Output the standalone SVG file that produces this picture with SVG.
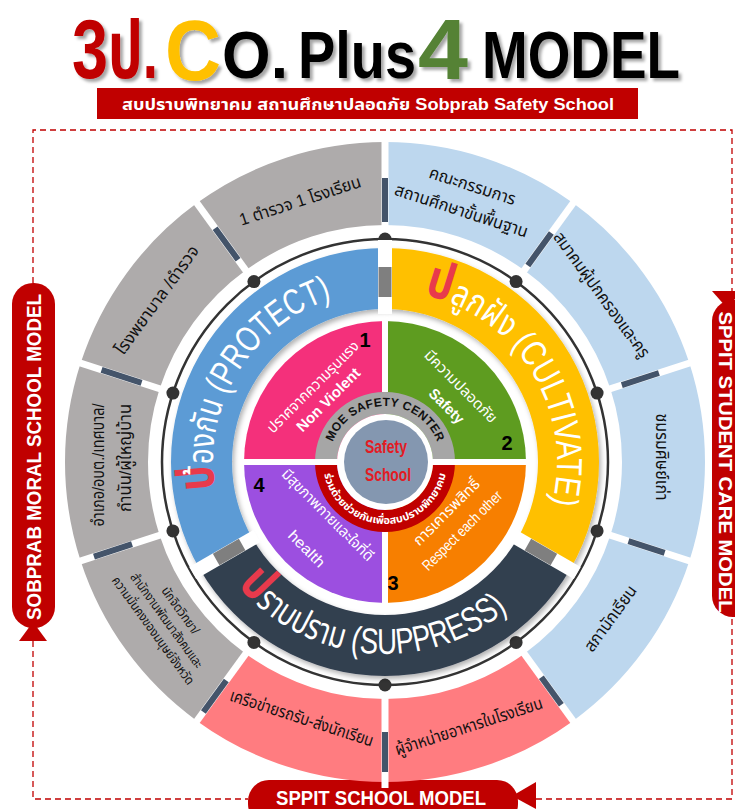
<svg xmlns="http://www.w3.org/2000/svg" width="735" height="809" viewBox="0 0 735 809">
<defs>
<style>
text{font-family:"Liberation Sans","Noto Sans Thai","Noto Sans",sans-serif}
.gray{fill:#aeabab}.lb{fill:#bdd7ee}.pk{fill:#ff7c80}
.gap{stroke:#fff;stroke-width:7}
.bar{stroke:#44546a;stroke-width:6}
.mgap{stroke:#fff;stroke-width:14}
.mbar{stroke:#7f7f7f;stroke-width:13}
.ot{font-size:17px;fill:#111;text-anchor:middle}
.ot7{font-size:13px;fill:#111;text-anchor:middle}
.qt{font-size:15px;fill:#fff;text-anchor:middle}
.num{font-size:20px;font-weight:bold;fill:#000;text-anchor:middle}
.ring{font-size:36px;fill:#fff}
.rp{fill:#e83a4c;font-size:52px;font-weight:bold}
.dot{fill:#333}
.dash{stroke:#c00000;stroke-width:1.3;stroke-dasharray:6 4;fill:none}
.pill{fill:#c00000}
.lbl{font-weight:bold;fill:#fff;text-anchor:middle}
.title{font-weight:bold}
</style>
<filter id="sh" x="-10%" y="-20%" width="130%" height="150%">
<feDropShadow dx="3" dy="3" stdDeviation="1.5" flood-color="#000" flood-opacity="0.35"/>
</filter>
<filter id="sh2" x="-10%" y="-10%" width="130%" height="130%">
<feDropShadow dx="2" dy="3" stdDeviation="2.5" flood-color="#000" flood-opacity="0.3"/>
</filter>
<path id="pProtect" d="M218.86,506.52 A172,172 0 0 1 399.99,290.66"/>
<path id="pCult" d="M399.99,290.66 A172,172 0 0 1 540.89,534.69"/>
<path id="pSupp" d="M218.72,558 A192,192 0 0 0 551.28,558"/>
<path id="pMoe" d="M329,462 A56,56 0 0 1 441,462"/>
<path id="pRed" d="M323,462 A62,62 0 0 0 447,462"/>
</defs>
<rect width="735" height="809" fill="#fff"/>

<!-- Title -->
<g id="title" class="title" filter="url(#sh)">
<text x="72" y="78" font-size="84" fill="#c00000" textLength="36" lengthAdjust="spacingAndGlyphs">3</text>
<text x="108" y="78" font-size="80" fill="#c00000" textLength="50" lengthAdjust="spacingAndGlyphs">ป.</text>
<text x="165" y="80" font-size="86" fill="#ffc000" textLength="56" lengthAdjust="spacingAndGlyphs">C</text>
<text x="222" y="78" font-size="67" fill="#000" textLength="66" lengthAdjust="spacingAndGlyphs">O.</text>
<text x="298" y="78" font-size="67" fill="#000" textLength="118" lengthAdjust="spacingAndGlyphs">Plus</text>
<text x="418" y="79" font-size="86" fill="#548235" textLength="50" lengthAdjust="spacingAndGlyphs">4</text>
<text x="482" y="78" font-size="67" fill="#000" textLength="198" lengthAdjust="spacingAndGlyphs">MODEL</text>
</g>
<g id="subtitle">
<rect x="97" y="88" width="541" height="31" fill="#c00000"/>
<text x="368" y="110" font-size="16" font-weight="bold" fill="#fff" text-anchor="middle" textLength="492" lengthAdjust="spacingAndGlyphs">สบปราบพิทยาคม สถานศึกษาปลอดภัย Sobprab Safety School</text>
</g>

<!-- Frame / connectors -->
<g id="connectors">
<path class="dash" d="M33,283 V130 H732 V291"/>
<path class="dash" d="M33,641 V799 H248"/>
<path class="dash" d="M536,799 H732 V617"/>
</g>

<!-- Side labels -->
<g id="label-left">
<rect class="pill" x="12" y="283" width="43" height="345" rx="21"/>
<polygon class="pill" points="33,622 19,641 47,641"/>
<text class="lbl" transform="translate(41,457) rotate(-90)" font-size="21" textLength="326" lengthAdjust="spacingAndGlyphs">SOBPRAB MORAL SCHOOL MODEL</text>
</g>
<g id="label-right">
<polygon class="pill" points="712,291 742,291 727,308"/>
<rect class="pill" x="712" y="300" width="45" height="317" rx="21"/>
<text class="lbl" transform="translate(719,462) rotate(90)" font-size="19" textLength="301" lengthAdjust="spacingAndGlyphs">SPPIT STUDENT CARE MODEL</text>
</g>
<g id="label-bottom">
<rect class="pill" x="248" y="780" width="270" height="45" rx="21"/>
<polygon class="pill" points="512,796 536,782 536,809"/>
<text class="lbl" x="381" y="805" font-size="21" textLength="210" lengthAdjust="spacingAndGlyphs">SPPIT SCHOOL  MODEL</text>
</g>

<!-- Outer ring segments -->
<g id="seg1"><path class="lb" d="M385,142 A320,320 0 0 1 573.09,203.11 L524.31,270.26 A237,237 0 0 0 385,225 Z"/>
<text class="ot" transform="translate(470.6,198.56) rotate(18)" x="-2" y="-7" textLength="90" lengthAdjust="spacingAndGlyphs">คณะกรรมการ</text>
<text class="ot" transform="translate(470.6,198.56) rotate(18)" x="-5" y="20" textLength="139" lengthAdjust="spacingAndGlyphs">สถานศึกษาขั้นพื้นฐาน</text></g>
<g id="seg2"><path class="lb" d="M573.09,203.11 A320,320 0 0 1 689.34,363.11 L610.40,388.76 A237,237 0 0 0 524.31,270.26 Z"/>
<text class="ot" transform="translate(609.1,299.18) rotate(54)" x="-8" y="9" textLength="151" lengthAdjust="spacingAndGlyphs">สมาคมผู้ปกครองและครู</text></g>
<g id="seg3"><path class="lb" d="M689.34,363.11 A320,320 0 0 1 689.34,560.89 L610.40,535.24 A237,237 0 0 0 610.40,388.76 Z"/>
<text class="ot" transform="translate(662,462) rotate(90)" x="-5" y="6" textLength="87" lengthAdjust="spacingAndGlyphs">ชมรมศิษย์เก่า</text></g>
<g id="seg4"><path class="lb" d="M689.34,560.89 A320,320 0 0 1 573.09,720.89 L524.31,653.74 A237,237 0 0 0 610.40,535.24 Z"/>
<text class="ot" transform="translate(609.1,624.82) rotate(-54)" x="6" y="3" textLength="77" lengthAdjust="spacingAndGlyphs">สภานักเรียน</text></g>
<g id="seg5"><path class="pk" d="M573.09,720.89 A320,320 0 0 1 385,782 L385,699 A237,237 0 0 0 524.31,653.74 Z"/>
<text class="ot" transform="translate(470.6,725.44) rotate(-18)" x="-2" y="6" textLength="154" lengthAdjust="spacingAndGlyphs">ผู้จำหน่ายอาหารในโรงเรียน</text></g>
<g id="seg6"><path class="pk" d="M385,782 A320,320 0 0 1 196.91,720.89 L245.69,653.74 A237,237 0 0 0 385,699 Z"/>
<text class="ot" transform="translate(299.4,725.44) rotate(18)" x="0" y="-2" textLength="150" lengthAdjust="spacingAndGlyphs">เครือข่ายรถรับ-ส่งนักเรียน</text></g>
<g id="seg7"><path class="gray" d="M196.91,720.89 A320,320 0 0 1 80.66,560.89 L159.60,535.24 A237,237 0 0 0 245.69,653.74 Z"/>
<text class="ot7" transform="translate(160.9,624.82) rotate(54)" x="0" y="-20" textLength="55" lengthAdjust="spacingAndGlyphs">นักจิตวิทยา/</text>
<text class="ot7" transform="translate(160.9,624.82) rotate(54)" x="0" y="-3" textLength="114" lengthAdjust="spacingAndGlyphs">สำนักงานพัฒนาสังคมและ</text>
<text class="ot7" transform="translate(160.9,624.82) rotate(54)" x="0" y="14" textLength="130" lengthAdjust="spacingAndGlyphs">ความมั่นคงของมนุษย์จังหวัด</text></g>
<g id="seg8"><path class="gray" d="M80.66,560.89 A320,320 0 0 1 80.66,363.11 L159.60,388.76 A237,237 0 0 0 159.60,535.24 Z"/>
<text class="ot" transform="translate(108,462) rotate(-90)" x="-3" y="-4" textLength="123" lengthAdjust="spacingAndGlyphs">อำเภอ/อบต./เทศบาล/</text>
<text class="ot" transform="translate(108,462) rotate(-90)" x="4" y="23" textLength="108" lengthAdjust="spacingAndGlyphs">กำนัน/ผู้ใหญ่บ้าน</text></g>
<g id="seg9"><path class="gray" d="M80.66,363.11 A320,320 0 0 1 196.91,203.11 L245.69,270.26 A237,237 0 0 0 159.60,388.76 Z"/>
<text class="ot" transform="translate(160.9,299.18) rotate(-54)" x="-3" y="3" textLength="130" lengthAdjust="spacingAndGlyphs">โรงพยาบาล /ตำรวจ</text></g>
<g id="seg10"><path class="gray" d="M196.91,203.11 A320,320 0 0 1 385,142 L385,225 A237,237 0 0 0 245.69,270.26 Z"/>
<text class="ot" transform="translate(299.4,198.56) rotate(-18)" x="0" y="8" textLength="127" lengthAdjust="spacingAndGlyphs">1 ตำรวจ 1 โรงเรียน</text></g>

<g id="outer-gaps">
<line class="gap" x1="385" y1="234" x2="385" y2="136"/>
<line class="gap" x1="519.02" y1="277.54" x2="576.62" y2="198.26"/>
<line class="gap" x1="601.84" y1="391.54" x2="695.05" y2="361.26"/>
<line class="gap" x1="601.84" y1="532.46" x2="695.05" y2="562.74"/>
<line class="gap" x1="519.02" y1="646.46" x2="576.62" y2="725.74"/>
<line class="gap" x1="385" y1="690" x2="385" y2="788"/>
<line class="gap" x1="250.98" y1="646.46" x2="193.38" y2="725.74"/>
<line class="gap" x1="168.16" y1="532.46" x2="74.95" y2="562.74"/>
<line class="gap" x1="168.16" y1="391.54" x2="74.95" y2="361.26"/>
<line class="gap" x1="250.98" y1="277.54" x2="193.38" y2="198.26"/>
<line class="bar" x1="385" y1="222" x2="385" y2="178"/>
<line class="bar" x1="238.05" y1="259.74" x2="215.13" y2="228.19"/>
<line class="bar" x1="141.53" y1="382.89" x2="101.58" y2="369.91"/>
<line class="bar" x1="132.02" y1="544.2" x2="93.98" y2="556.56"/>
<line class="bar" x1="226.3" y1="680.44" x2="203.37" y2="711.99"/>
<line class="bar" x1="385" y1="732" x2="385" y2="772"/>
<line class="bar" x1="541.35" y1="677.2" x2="561.34" y2="704.71"/>
<line class="bar" x1="628.47" y1="541.11" x2="664.61" y2="552.85"/>
<line class="bar" x1="621.81" y1="385.05" x2="658.91" y2="373"/>
<line class="bar" x1="527.83" y1="265.41" x2="551.34" y2="233.05"/>
</g>

<!-- Black ring with dots -->
<g id="orbit">
<circle cx="385" cy="462" r="223" fill="none" stroke="#333" stroke-width="2.5"/>
<circle class="dot" cx="385" cy="239" r="6.5"/>
<circle class="dot" cx="516.08" cy="281.59" r="6.5"/>
<circle class="dot" cx="597.09" cy="393.09" r="6.5"/>
<circle class="dot" cx="597.09" cy="530.91" r="6.5"/>
<circle class="dot" cx="516.08" cy="642.41" r="6.5"/>
<circle class="dot" cx="385" cy="685" r="6.5"/>
<circle class="dot" cx="253.92" cy="642.41" r="6.5"/>
<circle class="dot" cx="172.91" cy="530.91" r="6.5"/>
<circle class="dot" cx="172.91" cy="393.09" r="6.5"/>
<circle class="dot" cx="253.92" cy="281.59" r="6.5"/>
</g>

<!-- Middle ring -->
<g id="protect">
<path fill="#5b9bd5" filter="url(#sh2)" d="M199.67,569 A214,214 0 0 1 385,248 L385,309 A153,153 0 0 0 252.5,538.5 Z"/>
</g>
<g id="cultivate">
<path fill="#ffc000" filter="url(#sh2)" d="M385,248 A214,214 0 0 1 570.33,569 L517.5,538.5 A153,153 0 0 0 385,309 Z"/>
</g>
<g id="suppress">
<path fill="#333f50" filter="url(#sh2)" d="M570.33,569 A214,214 0 0 1 199.67,569 L252.5,538.5 A153,153 0 0 0 517.5,538.5 Z"/>
</g>
<g id="middle-gaps">
<line class="mgap" x1="385" y1="314" x2="385" y2="240"/>
<line class="mgap" x1="513.17" y1="536" x2="577.26" y2="573"/>
<line class="mgap" x1="256.83" y1="536" x2="192.74" y2="573"/>
<line class="mbar" x1="385" y1="297" x2="385" y2="267"/>
<line class="mbar" x1="527.89" y1="544.5" x2="553.88" y2="559.5"/>
<line class="mbar" x1="242.11" y1="544.5" x2="216.12" y2="559.5"/>
</g>
<g id="ring-texts">
<text class="ring"><textPath href="#pProtect" startOffset="18" textLength="243" lengthAdjust="spacingAndGlyphs"><tspan class="rp">ป</tspan>้องกัน (PROTECT)</textPath></text>
<text class="ring"><textPath href="#pCult" startOffset="24" textLength="273" lengthAdjust="spacingAndGlyphs"><tspan class="rp">ป</tspan>ลูกฝัง (CULTIVATE)</textPath></text>
<text class="ring"><textPath href="#pSupp" startOffset="33" textLength="301" lengthAdjust="spacingAndGlyphs"><tspan class="rp">ป</tspan>ราบปราม (SUPPRESS)</textPath></text>
</g>

<!-- Inner quadrants -->
<g id="q1">
<path fill="#f4307b" d="M385,462 L244,462 A141,141 0 0 1 385,321 Z"/>
<g transform="translate(385,462) rotate(-45)">
<text class="qt" x="2" y="-99" textLength="123" lengthAdjust="spacingAndGlyphs">ปราศจากความรุนแรง</text>
<text class="qt" x="4" y="-79" font-weight="bold" textLength="83" lengthAdjust="spacingAndGlyphs">Non Violent</text>
</g>
<text class="num" x="365" y="347">1</text>
</g>
<g id="q2">
<path fill="#5e9c20" d="M385,462 L385,321 A141,141 0 0 1 526,462 Z"/>
<g transform="translate(385,462) rotate(45)">
<text class="qt" x="0" y="-102" textLength="96" lengthAdjust="spacingAndGlyphs">มีความปลอดภัย</text>
<text class="qt" x="4" y="-78" font-weight="bold" textLength="43" lengthAdjust="spacingAndGlyphs">Safety</text>
</g>
<text class="num" x="507" y="450">2</text>
</g>
<g id="q3">
<path fill="#f77f00" d="M385,462 L526,462 A141,141 0 0 1 385,603 Z"/>
<g transform="translate(385,462) rotate(-45)">
<text class="qt" x="8" y="84" textLength="87" lengthAdjust="spacingAndGlyphs">การเคารพสิทธิ์</text>
<text class="qt" x="6" y="108" font-size="13" textLength="106" lengthAdjust="spacingAndGlyphs">Respect each other</text>
</g>
<text class="num" x="393" y="590">3</text>
</g>
<g id="q4">
<path fill="#9c4fe0" d="M385,462 L385,603 A141,141 0 0 1 244,462 Z"/>
<g transform="translate(385,462) rotate(45)">
<text class="qt" x="-3" y="83" textLength="123" lengthAdjust="spacingAndGlyphs">มีสุขภาพกายและใจที่ดี</text>
<text class="qt" x="6" y="122" textLength="45" lengthAdjust="spacingAndGlyphs">health</text>
</g>
<text class="num" x="259" y="492">4</text>
</g>

<!-- Center -->
<g id="center">
<path fill="#a6a6a6" d="M315,462 A70,70 0 0 1 455,462 L433,462 A48,48 0 0 0 337,462 Z"/>
<path fill="#c00000" d="M455,462 A70,70 0 0 1 315,462 L337,462 A48,48 0 0 0 433,462 Z"/>
<line x1="240" y1="462" x2="530" y2="462" stroke="#fff" stroke-width="6"/>
<line x1="385" y1="318" x2="385" y2="392" stroke="#fff" stroke-width="6"/>
<line x1="385" y1="532" x2="385" y2="606" stroke="#fff" stroke-width="6"/>
<circle cx="385" cy="462" r="48" fill="#fff"/>
<circle cx="386" cy="462" r="42" fill="#8497b0"/>
<text font-size="12" font-weight="bold" fill="#111" text-anchor="middle"><textPath href="#pMoe" startOffset="50%" textLength="135" lengthAdjust="spacing">MOE SAFETY CENTER</textPath></text>
<text font-size="10.5" font-weight="bold" fill="#fff" text-anchor="middle"><textPath href="#pRed" startOffset="50%" textLength="170" lengthAdjust="spacingAndGlyphs">ร่วมด้วยช่วยกันเพื่อสบปราบพิทยาคม</textPath></text>
<text x="386" y="453" font-size="19" font-weight="bold" fill="#e31b23" text-anchor="middle" textLength="42" lengthAdjust="spacingAndGlyphs">Safety</text>
<text x="388" y="481" font-size="19" font-weight="bold" fill="#e31b23" text-anchor="middle" textLength="46" lengthAdjust="spacingAndGlyphs">School</text>
</g>
</svg>
